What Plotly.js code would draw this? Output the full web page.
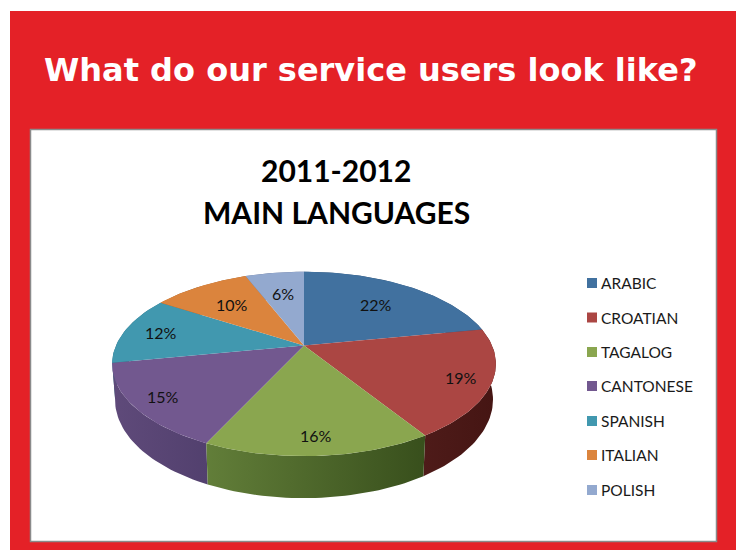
<!DOCTYPE html>
<html>
<head>
<meta charset="utf-8">
<script src="https://cdn.plot.ly/plotly-3.0.1.min.js"></script>
<style>html,body{margin:0;padding:0;background:#fff}#chart{width:742px;height:550px}</style>
</head>
<body>
<div id="chart"></div>
<script>
const categories = ['ARABIC','CROATIAN','TAGALOG','CANTONESE','SPANISH','ITALIAN','POLISH'];
const values = [22,19,16,15,12,10,6];
const topColors = ['#41719F','#AB4643','#8AA64F','#72588F','#4198AF','#DB843D','#93A9CF'];
const wallLeft = ['#2E5075','#4E1B19','#627E39','#5F4A7A','#2C6A7C','#9A5C2A','#67769A'];
const wallRight = ['#2E5075','#451513','#384F1C','#52406E','#2C6A7C','#9A5C2A','#67769A'];
const labelRadius = [0.66,0.85,0.85,0.85,0.80,0.66,0.68];

// pie projection (page-pixel axes)
const cx=304, cy=345.5, a=88.5, b=188, p=0.2;
function proj(deg,rho){
  const t=deg*Math.PI/180, u=rho*Math.sin(t), v=-rho*Math.cos(t), w=1-p*v;
  return [cx+b*u/w, cy+a*v/w];
}
function rim(deg){ // lower edge of the pie's side wall
  const t=deg*Math.PI/180, v=-Math.cos(t), q=proj(deg,1);
  return [cx+(q[0]-cx)*0.985, q[1]+34+8*v];
}
const total=values.reduce((s,v)=>s+v,0);
const wedges=[]; let acc=0;
values.forEach(v=>{wedges.push([acc/total*360,(acc+v)/total*360]);acc+=v;});
function angles(s,e){const n=Math.max(4,Math.ceil((e-s)/1.5)),o=[];for(let i=0;i<=n;i++)o.push(s+(e-s)*i/n);return o;}

const traces=[];
const order=[6,0,5,1,4,3,2];
order.forEach(i=>{
  const T=angles(wedges[i][0],wedges[i][1]);
  const poly=T.map(d=>proj(d,1)).concat(T.slice().reverse().map(rim));
  poly.push(poly[0]);
  traces.push({type:'scatter',mode:'lines',x:poly.map(q=>q[0]),y:poly.map(q=>q[1]),
    line:{width:0},fill:'toself',hoverinfo:'skip',
    fillgradient:{type:'horizontal',colorscale:[[0,wallLeft[i]],[1,wallRight[i]]]}});
});
categories.forEach((c,i)=>{
  const A=angles(wedges[i][0],wedges[i][1]).map(d=>proj(d,1));
  const poly=[[cx,cy]].concat(A,[[cx,cy]]);
  traces.push({type:'scatter',mode:'lines',name:c,x:poly.map(q=>q[0]),y:poly.map(q=>q[1]),
    line:{width:0},fill:'toself',fillcolor:topColors[i],text:c+' '+values[i]+'%',hoverinfo:'text'});
});

const font='Lato, Carlito, sans-serif';
const annotations=[
 {x:370,y:70,text:'What do our service users look like?',font:{family:'DejaVu Sans',size:32,color:'#fff',weight:700}},
 {x:335.5,y:170,text:'2011-2012',font:{family:font,size:30,color:'#000',weight:700}},
 {x:336.5,y:212,text:'MAIN LANGUAGES',font:{family:font,size:30,color:'#000',weight:700}}
];
const legendY=[283,317.5,352,386,421,455,490];
const shapes=[
 {type:'rect',x0:10,x1:736,y0:11,y1:550,fillcolor:'#E42127',line:{width:0},layer:'below'},
 {type:'rect',x0:30.5,x1:716.5,y0:129.5,y1:541.5,fillcolor:'#fff',line:{width:1.5,color:'#8A8A8A'},layer:'below'}
];
categories.forEach((c,i)=>{
  const m=proj((wedges[i][0]+wedges[i][1])/2,labelRadius[i]);
  annotations.push({x:m[0],y:m[1],text:values[i]+'%',font:{family:font,size:16,color:'#111'}});
  annotations.push({x:599,y:legendY[i],xanchor:'left',text:c,font:{family:font,size:15.5,color:'#1a1a1a'}});
  shapes.push({type:'rect',x0:587,x1:597,y0:legendY[i]-5,y1:legendY[i]+5,fillcolor:topColors[i],line:{width:0},layer:'below'});
});
annotations.forEach(t=>{t.xref='x';t.yref='y';t.showarrow=false;});
shapes.forEach(s=>{s.xref='x';s.yref='y';});

Plotly.newPlot('chart',traces,{
  width:742,height:550,margin:{l:0,r:0,t:0,b:0},
  paper_bgcolor:'#fff',plot_bgcolor:'rgba(0,0,0,0)',showlegend:false,
  xaxis:{range:[0,742],visible:false,fixedrange:true},
  yaxis:{range:[550,0],visible:false,fixedrange:true},
  annotations,shapes
},{displayModeBar:false,responsive:false});
</script>
</body>
</html>
